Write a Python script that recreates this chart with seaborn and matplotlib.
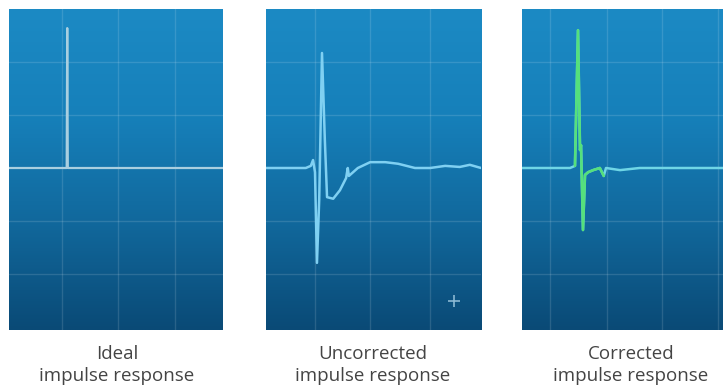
import numpy as np
import pandas as pd
import matplotlib
matplotlib.use("Agg")
import matplotlib.pyplot as plt
from matplotlib.colors import LinearSegmentedColormap
import seaborn as sns

# Traces (time in grid units, amplitude in grid units)
ideal_t = [0.0, 1.03, 1.04, 1.05, 3.82]
ideal_amp = [0.0, 0.0, 2.64, 0.0, 0.0]

uncorr_t = [0.0, 0.71, 0.80, 0.84, 0.875, 0.91, 0.95, 1.0, 1.05, 1.09, 1.20, 1.32,
            1.43, 1.46, 1.48, 1.64, 1.86, 2.13, 2.36, 2.66, 2.93, 3.2, 3.46, 3.64, 3.84]
uncorr_amp = [0.0, 0.0, 0.04, 0.15, -0.08, -1.79, -0.6, 2.17, 0.55, -0.55, -0.58, -0.42,
              -0.19, 0.0, -0.15, 0.0, 0.11, 0.11, 0.08, 0.0, 0.0, 0.04, 0.02, 0.06, 0.0]

corr_t = [0.0, 0.857, 0.946, 1.0, 1.036, 1.054, 1.089, 1.125, 1.18, 1.27, 1.39,
          1.46, 1.5, 1.75, 2.1, 3.59]
corr_amp = [0.0, 0.0, 0.04, 2.6, 0.34, 0.43, -1.17, -0.13, -0.08, -0.04, 0.0,
            -0.15, 0.0, -0.04, 0.0, 0.0]

caption_top = ["Ideal", "Uncorrected", "Corrected"]
caption_bottom = ["impulse response", "impulse response", "impulse response"]

sns.set_style("white")
plt.rcParams['font.family'] = ['Open Sans', 'DejaVu Sans']

W, H = 723, 387
fig = plt.figure(figsize=(W / 100, H / 100), dpi=100)

# panel boxes in pixels; x grid positions in panel units
panels = [
    dict(left=9, width=214, grid=[0.95, 1.95, 2.96], cx=117),
    dict(left=266, width=215, grid=[0.875, 1.85, 2.93], cx=373),
    dict(left=522, width=201, grid=[0.5, 1.52, 2.5, 3.5], cx=631),
]
top, height = 9, 321
unit_y = 53.0

bg = LinearSegmentedColormap.from_list("bg", ["#1c8ac4", "#1680ba", "#11689c", "#0a4a76"])
grad = np.linspace(0, 1, 256).reshape(-1, 1)

axes = []
for p in panels:
    ax = fig.add_axes([p["left"] / W, 1 - (top + height) / H, p["width"] / W, height / H])
    xmax = p["width"] / 56.0
    ylo, yhi = -(top + height - 168) / unit_y, (168 - top) / unit_y
    ax.imshow(grad, cmap=bg, aspect="auto", extent=[0, xmax, ylo, yhi], zorder=0)
    for g in p["grid"]:
        ax.axvline(g, color="white", alpha=0.13, lw=1.0, zorder=1)
    for g in [-2, -1, 1, 2]:
        ax.axhline(g, color="white", alpha=0.13, lw=1.0, zorder=1)
    ax.set_xlim(0, xmax)
    ax.set_ylim(ylo, yhi)
    ax.set_xticks([])
    ax.set_yticks([])
    for s in ax.spines.values():
        s.set_visible(False)
    axes.append(ax)

# Ideal
sns.lineplot(x=ideal_t, y=ideal_amp, ax=axes[0], color="#a9cfe0", lw=1.6,
             sort=False, estimator=None, zorder=3)

# Uncorrected
sns.lineplot(x=uncorr_t, y=uncorr_amp, ax=axes[1], color="#7fd0f2", lw=1.8,
             sort=False, estimator=None, zorder=3)
axes[1].plot([3.36], [-2.5], marker="+", ms=9, mew=1.2, color="#8ab8d2", zorder=3)

# Corrected: cyan baseline, green impulse
sns.lineplot(x=corr_t, y=corr_amp, ax=axes[2], color="#6fd6e6", lw=1.8,
             sort=False, estimator=None, zorder=3)
sns.lineplot(x=corr_t[2:12], y=corr_amp[2:12], ax=axes[2], color="#55e07c", lw=1.9,
             sort=False, estimator=None, zorder=4)

for p, c1, c2 in zip(panels, caption_top, caption_bottom):
    cx = p["cx"] / W
    fig.text(cx, 1 - 359 / H, c1, ha="center", va="baseline", fontsize=13.5,
             color="#444444")
    fig.text(cx, 1 - 381 / H, c2, ha="center", va="baseline", fontsize=13.5,
             color="#444444")

fig.savefig("out.png", dpi=100, facecolor="white")
